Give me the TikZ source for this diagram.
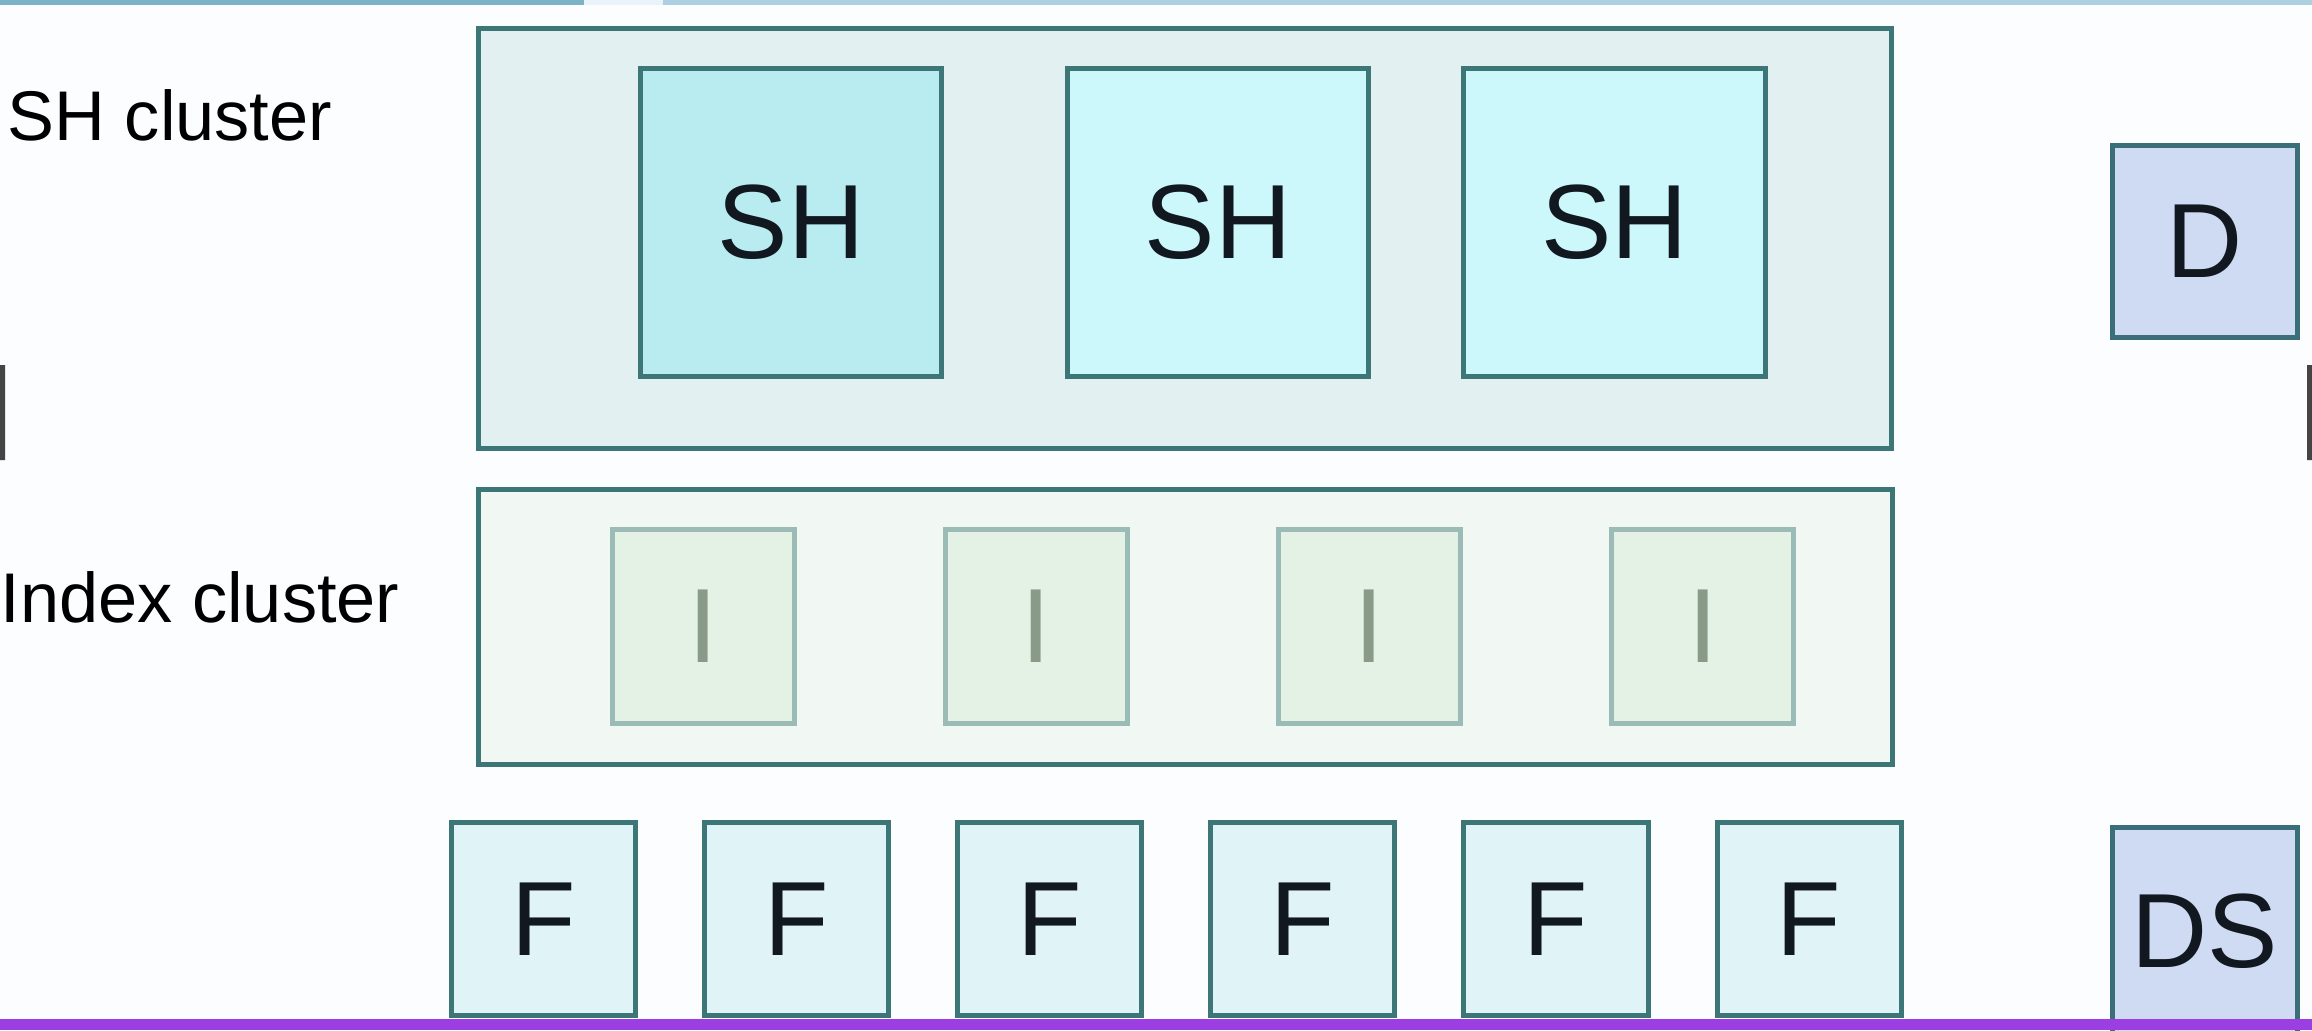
\documentclass[tikz,border=0pt]{standalone}
\usepackage{fontspec}
\setmainfont{Liberation Sans}
\usetikzlibrary{positioning,matrix}
\definecolor{pagebg}{HTML}{FBFDFE}
\definecolor{edge}{HTML}{3D7676}
\definecolor{shcfill}{HTML}{E2F0F2}
\definecolor{shonefill}{HTML}{B9ECF1}
\definecolor{shfill}{HTML}{CDF8FB}
\definecolor{idxfill}{HTML}{F1F8F3}
\definecolor{iedge}{HTML}{9BBCB6}
\definecolor{ifill}{HTML}{E4F1E5}
\definecolor{itext}{HTML}{8A9A89}
\definecolor{ffill}{HTML}{E0F3F7}
\definecolor{dedge}{HTML}{3A6F7A}
\definecolor{dfill}{HTML}{CFDBF3}
\definecolor{txt}{HTML}{111820}
\definecolor{barA}{HTML}{7DB3C6}
\definecolor{barB}{HTML}{ACD0E2}
\definecolor{bargap}{HTML}{E8F4FA}
\definecolor{tickgrey}{HTML}{444444}
\definecolor{purplebar}{HTML}{9B3FE2}

\begin{document}
\begin{tikzpicture}[x=0.01cm,y=-0.01cm,
   box/.style={draw=#1,line width=0.05cm,outer sep=0pt,inner sep=0pt},
   box/.default=edge,
   big/.style={font=\fontsize{30}{34}\selectfont,text=txt},
   lbl/.style={anchor=base west,inner sep=0pt,font=\fontsize{20}{24}\selectfont},
   brow/.style={matrix of nodes,column sep=#1,inner sep=0pt}]
 \useasboundingbox[fill=pagebg] (0,0) rectangle (2312,1030);
 % thin bars at the edges
 \fill[barA] (0,0) rectangle (584,5);
 \fill[bargap] (584,0) rectangle (663,5);
 \fill[barB] (663,0) rectangle (2312,5);
 \fill[tickgrey] (0,365) rectangle (5,460) (2307,365) rectangle (2312,460);
 % SH cluster
 \node[box,fill=shcfill,minimum width=14.13cm,minimum height=4.2cm] (shc) at (1185,238.5) {};
 \node[box,fill=shonefill,big,minimum width=3.01cm,minimum height=3.08cm] (sh1) at (791,222.5) {SH};
 \foreach \X/\N in {1218/2,1614.5/3}
  \node[box,fill=shfill,big,minimum width=3.01cm,minimum height=3.08cm] (sh\N) at (\X,222.5) {SH};
 \node[lbl] (shlbl) at (7,140) {SH cluster};
 % Index cluster
 \node[box,fill=idxfill,minimum width=14.14cm,minimum height=2.75cm] (idxc) at (1185.5,627) {};
 \matrix[brow=1.46cm,cells={nodes={box=iedge,fill=ifill,big,text=itext,minimum width=1.82cm,minimum height=1.94cm}}] (irow) at (1203,626.5) {
     I & I & I & I \\ };
 \node[lbl] (idxlbl) at (0,622) {Index cluster};
 % F row
 \matrix[brow=0.64cm,cells={nodes={box,fill=ffill,big,minimum width=1.84cm,minimum height=1.93cm}}] (frow) at (1176.3,919) {
     F & F & F & F & F & F \\ };
 % D and DS
 \node[box=dedge,fill=dfill,big,minimum width=1.85cm,minimum height=1.92cm] (d) at (2205,241.5) {D};
 \node[box=dedge,fill=dfill,big,minimum width=1.84cm,minimum height=2.06cm,below=4.9cm of d] (ds) {DS};
 \fill[purplebar] (0,1019) rectangle (2312,1030);
\end{tikzpicture}
\end{document}
